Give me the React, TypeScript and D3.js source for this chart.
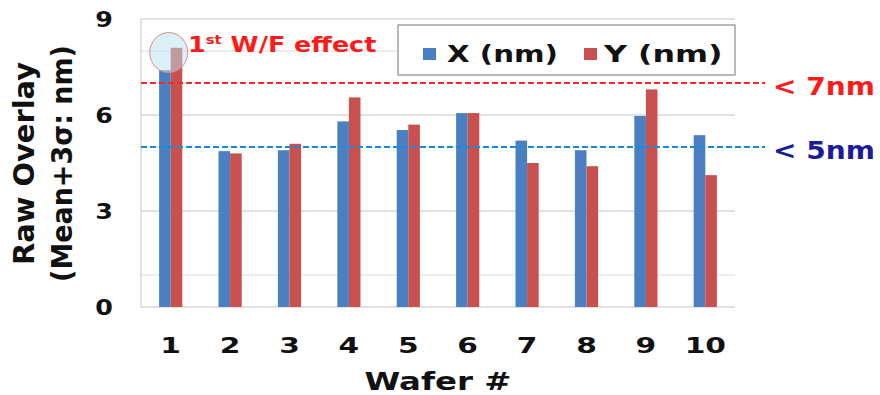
import React, { useEffect, useRef } from 'react';
import * as d3 from 'd3';

// values
const wafers = ['1', '2', '3', '4', '5', '6', '7', '8', '9', '10'];
const xValues = [7.4, 4.87, 4.9, 5.8, 5.53, 6.06, 5.2, 4.9, 5.97, 5.37];
const yValues = [8.1, 4.8, 5.1, 6.55, 5.7, 6.06, 4.5, 4.4, 6.8, 4.12];
const seriesNames = ['X (nm)', 'Y (nm)'];
const yTicks = [0, 3, 6, 9];
const minorTicks = [1, 8];
const limitValues = [7, 5];
const limitLabels = ['< 7nm', '< 5nm'];

const FONT = '"DejaVu Sans", Verdana, sans-serif';

// append a bold text and stretch it along its own x so it is `width` wide
function addText(parent: any, opts: any) {
    const grp = parent.append('g');
    const t = grp.append('text')
        .attr('text-anchor', opts.anchor || 'start')
        .style('font', 'bold ' + opts.size + 'px ' + FONT)
        .attr('fill', opts.color || '#111');
    if (opts.build) opts.build(t); else t.text(opts.text);
    const natural = t.node().getBBox().width || 1;
    const s = opts.width ? opts.width / natural : (opts.scale || 1);
    grp.attr('transform', 'translate(' + opts.x + ',' + opts.y + ')' + (opts.rotate ? ' rotate(-90)' : '') + ' scale(' + s + ',1)');
    return t;
}

export default function App() {
    const ref = useRef<SVGSVGElement>(null);

    useEffect(() => {
        const svg = d3.select(ref.current);
        svg.selectAll('*').remove();

        const svgWidth = 880, svgHeight = 395;
        const pad = { top: 19, bottom: 88, left: 141, right: 145 };
        const width = svgWidth - pad.left - pad.right;
        const height = svgHeight - pad.top - pad.bottom;

        svg.attr('width', svgWidth).attr('height', svgHeight);
        svg.append('rect').attr('width', svgWidth).attr('height', svgHeight).attr('fill', '#fff');

        const g = svg.append('g').attr('transform', 'translate(' + pad.left + ',' + pad.top + ')');

        const x = d3.scaleBand<string>().domain(wafers).range([0, width]).paddingInner(0.61).paddingOuter(0.305);
        const xs = d3.scaleBand<string>().domain(seriesNames).range([0, x.bandwidth()]);
        const y = d3.scaleLinear().domain([0, 9]).range([height, 0]);

        // grid
        g.selectAll('.minor').data(minorTicks).enter().append('line')
            .attr('x1', 0).attr('x2', width)
            .attr('y1', d => y(d)).attr('y2', d => y(d))
            .attr('stroke', '#dcdcdc').attr('stroke-width', 1);
        g.selectAll('.major').data(yTicks).enter().append('line')
            .attr('x1', 0).attr('x2', width)
            .attr('y1', d => y(d)).attr('y2', d => y(d))
            .attr('stroke', '#c4c4c4').attr('stroke-width', 1);
        g.append('line').attr('x1', 0).attr('x2', 0).attr('y1', 0).attr('y2', height)
            .attr('stroke', '#c4c4c4');

        // bars
        const colors = ['#4a7fc1', '#c8504e'];
        const series = [xValues, yValues];
        series.forEach((vals, si) => {
            g.selectAll('.bar' + si).data(vals).enter().append('rect')
                .attr('x', (d, i) => (x(wafers[i]) as number) + (xs(seriesNames[si]) as number))
                .attr('width', xs.bandwidth())
                .attr('y', d => y(d))
                .attr('height', d => height - y(d))
                .attr('fill', colors[si]);
        });

        // y tick labels
        yTicks.forEach(d => {
            addText(g, { x: -37, y: y(d) + 8, text: String(d), size: 22, anchor: 'middle', scale: 1.15 });
        });

        // x tick labels
        wafers.forEach(d => {
            addText(g, { x: (x(d) as number) + x.bandwidth() / 2, y: height + 46, text: d, size: 22, anchor: 'middle', scale: 1.35 });
        });

        // axis titles
        addText(svg, { x: 438, y: 390, text: 'Wafer #', size: 24, anchor: 'middle', width: 147 });
        addText(svg, { x: 34, y: 163.5, text: 'Raw Overlay', size: 28, anchor: 'middle', width: 203, rotate: true });
        addText(svg, { x: 72, y: 163.5, text: '(Mean+3σ: nm)', size: 28, anchor: 'middle', width: 237, rotate: true });

        // limit lines
        const limitColors = ['#ff2828', '#1a8ae0'];
        const labelColors = ['#ff1a1a', '#1c1c9a'];
        limitValues.forEach((v, i) => {
            g.append('line')
                .attr('x1', 0).attr('x2', width + 30)
                .attr('y1', y(v)).attr('y2', y(v))
                .attr('stroke', limitColors[i]).attr('stroke-width', 2)
                .attr('stroke-dasharray', '6,3');
            addText(g, { x: width + 38, y: y(v) + 12, text: limitLabels[i], size: 25, color: labelColors[i], width: 102 });
        });

        // legend
        const lg = svg.append('g').attr('transform', 'translate(398,25)');
        lg.append('rect').attr('width', 337).attr('height', 50)
            .attr('fill', '#fff').attr('stroke', '#8a8a8a').attr('stroke-width', 1.2);
        const legendX = [25, 186];
        const legendW = [111, 120];
        seriesNames.forEach((s, i) => {
            lg.append('rect').attr('x', legendX[i]).attr('y', 23).attr('width', 13).attr('height', 12)
                .attr('fill', colors[i]);
            addText(lg, { x: legendX[i] + 24 - (i ? 4 : 0), y: 37, text: s, size: 23, width: legendW[i] });
        });

        // first wafer annotation
        g.append('ellipse')
            .attr('cx', (x(wafers[0]) as number) + x.bandwidth() / 2 - 2)
            .attr('cy', y(7.95))
            .attr('rx', 19).attr('ry', 20)
            .attr('fill', '#b8e4f0').attr('fill-opacity', 0.5)
            .attr('stroke', '#e08888').attr('stroke-width', 1);
        addText(g, {
            x: 47, y: 33, size: 22, color: '#ff1a1a', width: 189,
            build: (t: any) => {
                t.append('tspan').text('1');
                t.append('tspan').attr('dy', -8).style('font-size', '13px').text('st');
                t.append('tspan').attr('dy', 8).text(' W/F effect');
            },
        });
    }, []);

    return (
        <div style={{ position: 'absolute', left: 0, top: 0 }}>
            <svg ref={ref}></svg>
        </div>
    );
}
